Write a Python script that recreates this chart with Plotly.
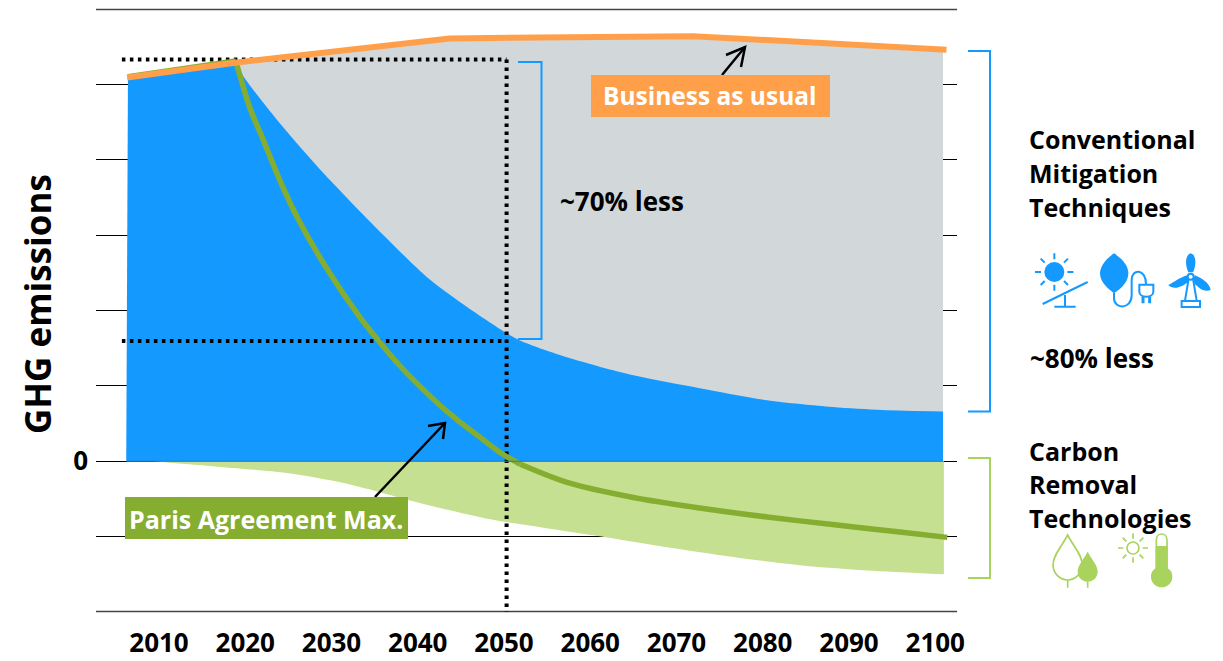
import base64
import plotly.graph_objects as go

# ---------- data (years, emissions index) ----------
bau_years = [2006.3, 2019.0, 2043.7, 2071.9, 2101.3]
bau_values = [50.9, 52.9, 56.1, 56.4, 54.6]

grey_years = [2019.0, 2043.7, 2071.9, 2100.9]
grey_values = [52.9, 56.1, 56.4, 54.6]

blue_hist_years = [2006.2, 2006.4, 2019.0, 2019.7, 2019.7]
blue_hist_values = [0, 50.7, 52.8, 51.2, 0]

blue_years = [2019.0, 2019.7, 2024.4, 2029.0, 2033.6, 2037.6, 2041.4, 2045.8, 2050.3,
              2051.9, 2057.3, 2065.0, 2072.7, 2080.5, 2088.1, 2093.9, 2100.9]
blue_values = [52.8, 51.2, 44.3, 38.3, 32.8, 28.2, 24.1, 20.4, 17.0,
               16.0, 13.8, 11.4, 9.7, 8.1, 7.2, 6.8, 6.6]

paris_hist_years = [2006.4, 2018.9]
paris_hist_values = [51.0, 53.1]
paris_fall_years = [2018.9, 2020.5, 2022.1, 2024.0, 2026.1, 2029.6, 2033.3, 2035.6, 2037.9, 2040.3, 2042.6,
                    2044.9, 2047.2, 2049.5, 2051.9]
paris_fall_values = [53.1, 47.0, 42.6, 37.3, 32.2, 25.3, 19.1, 15.8, 12.7, 9.9, 7.4,
                     5.2, 3.2, 1.2, -0.4]
paris_net_years = [2051.9, 2057.3, 2065.0, 2072.7, 2080.5, 2088.1, 2095.9, 2101.4]
paris_net_values = [-0.4, -2.8, -4.8, -6.2, -7.4, -8.4, -9.4, -10.1]

removal_years = [2009.3, 2017.1, 2024.8, 2030.6, 2035.6, 2039.1, 2042.6, 2048.4, 2054.2, 2061.1, 2068.9, 2076.6,
                 2084.3, 2092.1, 2101.0]
removal_values = [0.0, -0.75, -1.55, -2.7, -4.1, -5.2, -6.2, -7.7, -8.75, -9.95, -11.4, -12.7,
                  -13.8, -14.5, -15.0]

ref_2020_years = [2005.7, 2050.3]
ref_2020_values = [53.3, 53.3]
ref_2050_years = [2005.7, 2050.3]
ref_2050_values = [15.95, 15.95]
ref_vert_years = [2050.3, 2050.3]
ref_vert_values = [53.3, -20.3]

x_ticks = [2010, 2020, 2030, 2040, 2050, 2060, 2070, 2080, 2090, 2100]
y_ticks = [-20, -10, 0, 10, 20, 30, 40, 50, 60]
y_tick_text = ["", "", "0", "", "", "", "", "", ""]

# ---------- colours / layout helpers ----------
W, H = 1223, 661
L, R, T, B = 96, 957, 9, 612
BLUE = "#1499FF"
GREY = "#D2D7DA"
LGREEN = "#C5E090"
IGREEN = "#A8D35C"
ORANGE = "#FF9F4A"
PARIS = "#85AD2F"
FONT = "Open Sans"


def px(x):
    return (x - L) / (R - L)


def py(y):
    return (B - y) / (B - T)


curve = dict(shape="spline", smoothing=0.8)
fig = go.Figure()
fig.add_trace(go.Scatter(x=grey_years, y=grey_values, mode="none", fill="tozeroy", fillcolor=GREY))
fig.add_trace(go.Scatter(x=blue_hist_years, y=blue_hist_values, mode="none", fill="toself", fillcolor=BLUE))
fig.add_trace(go.Scatter(x=blue_years, y=blue_values, mode="none", fill="tozeroy", fillcolor=BLUE, line=curve))
fig.add_trace(go.Scatter(x=removal_years, y=removal_values, mode="none", fill="tozeroy", fillcolor=LGREEN, line=curve))
dots = dict(color="#000000", width=4, dash="3.5px,4.5px")
for xs, ys in ((ref_2020_years, ref_2020_values), (ref_2050_years, ref_2050_values), (ref_vert_years, ref_vert_values)):
    fig.add_trace(go.Scatter(x=xs, y=ys, mode="lines", line=dots, cliponaxis=False))
fig.add_trace(go.Scatter(x=paris_hist_years, y=paris_hist_values, mode="lines", line=dict(color=PARIS, width=5.5)))
for xs, ys in ((paris_fall_years, paris_fall_values), (paris_net_years, paris_net_values)):
    fig.add_trace(go.Scatter(x=xs, y=ys, mode="lines", line=dict(color=PARIS, width=5.5, **curve)))
fig.add_trace(go.Scatter(x=bau_years, y=bau_values, mode="lines", line=dict(color=ORANGE, width=6)))


def poly(points, color, width=2):
    d = "M" + " L".join(f"{px(a):.5f},{py(b):.5f}" for a, b in points)
    return dict(type="path", xref="paper", yref="paper", path=d, layer="above",
                line=dict(color=color, width=width))


shapes = [
    dict(type="line", xref="paper", yref="paper", x0=0, x1=1, y0=py(9.4), y1=py(9.4), layer="below",
         line=dict(color="#444444", width=1.5)),
    dict(type="line", xref="paper", yref="paper", x0=0, x1=1, y0=py(611.6), y1=py(611.6), layer="below",
         line=dict(color="#444444", width=1.5)),
    dict(type="line", xref="x", yref="y", x0=2006.2, x1=2100.9, y0=0, y1=0, layer="above",
         line=dict(color="#1F80C4", width=1)),
    poly([(518, 62), (541.5, 62), (541.5, 339), (518, 339)], BLUE),
    poly([(968, 51), (990, 51), (990, 411.5), (968, 411.5)], BLUE),
    poly([(968, 458), (990, 458), (990, 578), (968, 578)], IGREEN),
    poly([(375, 497), (445, 423)], "#000000", 2.5),
    poly([(428, 426), (445, 423), (443, 439)], "#000000", 2.5),
    poly([(722, 75), (745, 47)], "#000000", 2.5),
    poly([(726, 55), (745, 47), (741, 67)], "#000000", 2.5),
]
for x0, x1, y0, y1, c in ((125, 408, 497, 539, PARIS), (591, 830, 75, 117, ORANGE)):
    shapes.append(dict(type="rect", xref="paper", yref="paper", x0=px(x0), x1=px(x1), y0=py(y1), y1=py(y0),
                       fillcolor=c, line=dict(width=0), layer="above"))


def text(s, x, y, size=25, color="#000000", anchor="left", angle=0):
    return dict(text=s, x=px(x), y=py(y), xref="paper", yref="paper", showarrow=False, xanchor=anchor,
                yanchor="middle", textangle=angle, font=dict(family=FONT, size=size, color=color, weight=700))


annotations = [
    text("Conventional", 1027, 139), text("Mitigation", 1027, 173), text("Techniques", 1027, 207),
    text("~80% less", 1028, 358, size=26), text("~70% less", 558, 201, size=26),
    text("Carbon", 1027, 451), text("Removal", 1027, 484), text("Technologies", 1027, 518),
    text("GHG emissions", 37, 304, size=35, anchor="center", angle=-90),
    text("Paris Agreement Max.", 266, 518.5, color="#FFFFFF", anchor="center"),
    text("Business as usual", 710, 95.5, size=24.5, color="#FFFFFF", anchor="center"),
]

# ---------- icons ----------
mitigation_svg = f'''<svg xmlns="http://www.w3.org/2000/svg" viewBox="0 0 600 240">
<g fill="none" stroke="{BLUE}" stroke-width="6">
<circle cx="103" cy="96" r="30" fill="{BLUE}" stroke="none"/>
<path d="M103 40V58M103 134V152M45 96H63M142 96H160M62 56L74 68M144 56L132 68M62 135L74 123M144 135L132 123"/>
<path d="M68 192L203 126M135 165V200M103 200H167"/>
<path d="M282 40C250 62 240 85 240 100C240 125 262 145 282 160C305 145 325 125 325 100C325 80 312 60 282 40Z" fill="{BLUE}" stroke="none"/>
<path d="M282 158V175C282 208 335 210 335 165V120C335 85 378 85 378 132"/>
<path d="M358 134H400V155C400 165 390 170 379 170C368 170 358 165 358 155Z"/>
<path d="M369 170V190M389 170V190" stroke-width="9"/>
<circle cx="512" cy="110" r="9"/>
<path d="M505 122L495 182M520 122L530 182"/>
<rect x="485" y="183" width="55" height="18"/>
<path d="M512 40C495 45 495 75 505 97H519C529 75 530 45 512 40Z" fill="{BLUE}" stroke="none"/>
<path d="M445 135C465 125 480 112 502 106L508 122C490 140 460 152 445 135Z" fill="{BLUE}" stroke="none"/>
<path d="M572 150C568 128 545 115 525 106L517 122C530 140 550 158 572 150Z" fill="{BLUE}" stroke="none"/>
</g></svg>'''

removal_svg = f'''<svg xmlns="http://www.w3.org/2000/svg" viewBox="0 0 480 240">
<g fill="none" stroke="{IGREEN}" stroke-width="5">
<path d="M113 45C95 80 69 105 69 135C69 160 90 180 113 180C135 180 157 160 157 135C157 105 131 80 113 45Z"/>
<path d="M113 180V203M173 185V203"/>
<path d="M173 95C160 120 143 135 143 155C143 172 157 185 173 185C189 185 203 172 203 155C203 135 186 120 173 95Z" fill="{IGREEN}" stroke="none"/>
<circle cx="309" cy="84" r="18"/>
<path d="M309 40V56M309 112V128M264 84H280M338 84H354M278 53L289 64M340 53L329 64M278 115L289 104M340 115L329 104"/>
<path d="M379 150V60C379 36 411 36 411 60V150"/>
<path d="M377 78H413V145C425 152 427 162 427 170C427 188 413 202 395 202C377 202 363 188 363 170C363 162 365 152 377 145Z" fill="{IGREEN}" stroke="none"/>
</g></svg>'''


def icon(svg, x, y, w, h):
    src = "data:image/svg+xml;base64," + base64.b64encode(svg.encode()).decode()
    return dict(source=src, xref="paper", yref="paper", x=px(x), y=py(y), sizex=w / (R - L), sizey=h / (B - T),
                xanchor="left", yanchor="top", sizing="stretch", layer="above")


fig.update_layout(
    width=W, height=H, autosize=False, showlegend=False,
    margin=dict(l=L, r=W - R, t=T, b=H - B, pad=0, autoexpand=False),
    paper_bgcolor="#FFFFFF", plot_bgcolor="#FFFFFF",
    font=dict(family=FONT, color="#000000"),
    xaxis=dict(range=[2010 + (L - 159) / 8.625, 2010 + (R - 159) / 8.625], tickvals=x_ticks,
               ticktext=[str(v) for v in x_ticks], showgrid=False, zeroline=False, ticks="", automargin=False,
               showline=False, ticklabelstandoff=13,
               tickfont=dict(family=FONT, size=26, color="#000000", weight=700)),
    yaxis=dict(range=[-20, 60], tickvals=y_ticks, ticktext=y_tick_text, showgrid=True, gridcolor="#000000",
               gridwidth=1, zeroline=False, showline=False, ticks="", ticklabelstandoff=7, automargin=False,
               tickfont=dict(family=FONT, size=26, color="#000000", weight=700)),
    shapes=shapes, annotations=annotations,
    images=[icon(mitigation_svg, 1020, 240, 200, 80), icon(removal_svg, 1030, 520, 160, 80)],
)

fig.write_html("out.html", config=dict(displayModeBar=False),
               post_script="document.body.style.margin='0';")
